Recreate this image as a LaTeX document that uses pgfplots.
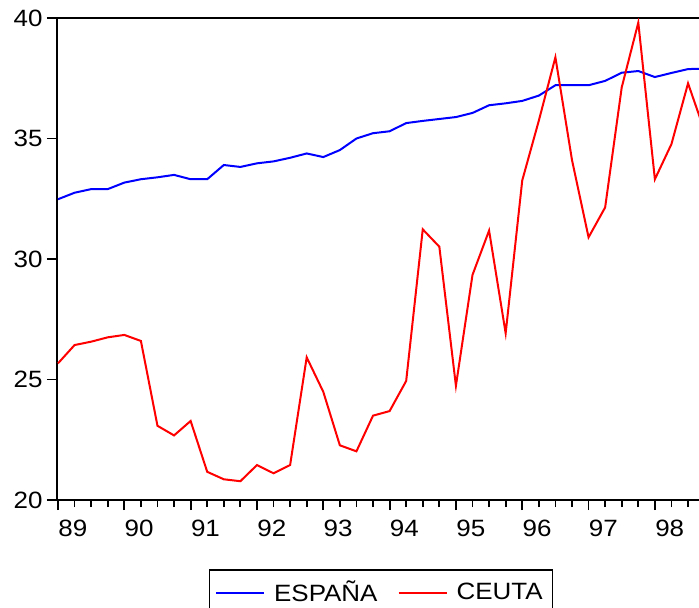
\documentclass[border=0pt]{standalone}
\usepackage{fontspec}
\setmainfont[FakeStretch=1.1]{Liberation Sans}
\usepackage{pgfplots}
\usepackage{pgfplotstable}
\pgfplotsset{compat=1.18}

% quarterly series, 1989Q1 = 0
\pgfplotstableread{
q   espana ceuta
0   32.48  25.67
1   32.75  26.43
2   32.90  26.57
3   32.90  26.75
4   33.17  26.85
5   33.31  26.60
6   33.39  23.08
7   33.49  22.68
8   33.31  23.28
9   33.31  21.17
10  33.90  20.86
11  33.82  20.78
12  33.97  21.45
13  34.05  21.11
14  34.20  21.45
15  34.38  25.92
16  34.23  24.49
17  34.52  22.27
18  35.00  22.02
19  35.22  23.50
20  35.30  23.69
21  35.64  24.94
22  35.73  31.23
23  35.81  30.51
24  35.89  24.74
25  36.06  29.34
26  36.38  31.18
27  36.46  26.92
28  36.56  33.26
29  36.78  35.74
30  37.21  38.37
31  37.21  34.11
32  37.21  30.90
33  37.39  32.14
34  37.73  37.12
35  37.80  39.81
36  37.55  33.31
37  37.72  34.77
38  37.88  37.29
39  37.90  35.30
}\datatable

\begin{document}
\begin{tikzpicture}[font=\fontsize{11.8}{14}\selectfont]
\useasboundingbox (0,0) rectangle (349.5pt,303.5pt);
\begin{axis}[
  at={(28.5pt,53.5pt)}, anchor=south west,
  x=8.29pt, y=12.05pt,
  xmin=-0.06, xmax=39.4,
  ymin=20, ymax=40,
  axis line style={line width=0.9pt},
  tick pos=left, tick align=outside,
  major tick length=5pt, minor tick length=3.5pt,
  tick style={line width=0.9pt, black},
  xtick={0,4,...,36},
  xticklabels={89,90,91,92,93,94,95,96,97,98},
  minor xtick={0,...,39},
  ytick={20,25,30,35,40},
  /pgf/number format/assume math mode=true,
  xticklabel style={anchor=north west, inner xsep=0pt, yshift=-1.5pt},
  yticklabel style={inner xsep=2pt},
  legend columns=2,
  legend style={at={(0.495,-0.1438)}, anchor=north, draw=black, line width=0.6pt,
    inner xsep=3pt, inner ysep=3.5pt,
    /tikz/every odd column/.append style={column sep=2.5pt},
    /tikz/every even column/.append style={column sep=8pt}},
  legend image code/.code={\draw[#1] (0pt,0pt) -- (24pt,0pt);},
]
\addplot[blue, line width=1pt] table[x=q, y=espana] {\datatable};
\addlegendentry{ESPAÑA}
\addplot[red, line width=1pt] table[x=q, y=ceuta] {\datatable};
\addlegendentry{CEUTA}
\end{axis}
\end{tikzpicture}
\end{document}
